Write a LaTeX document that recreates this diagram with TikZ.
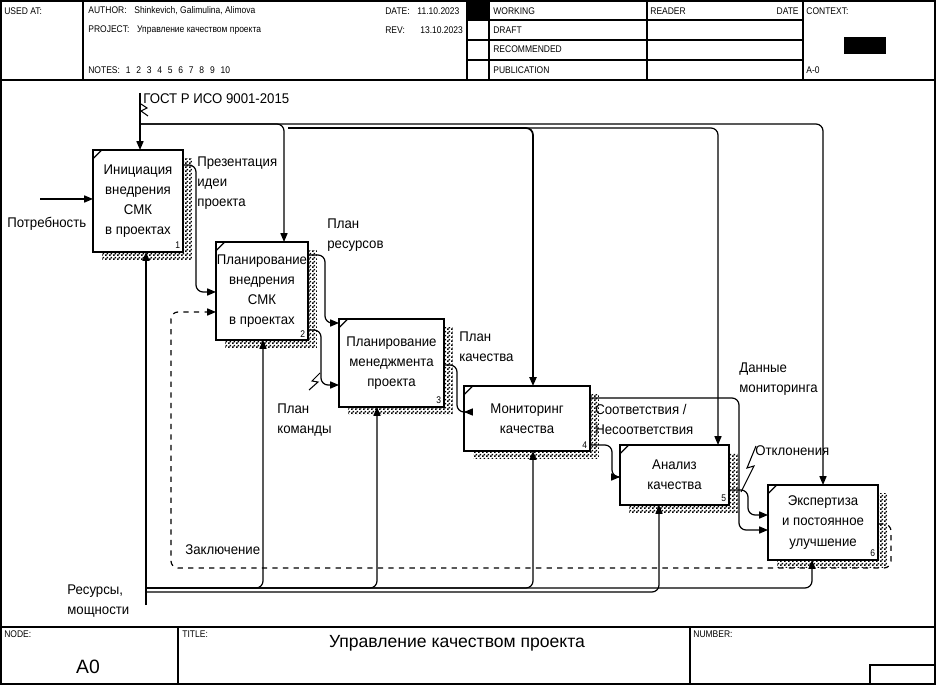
\documentclass[tikz,border=0pt]{standalone}
\usepackage{fontspec}
\setmainfont{Liberation Sans}
\newfontfamily\hdrfam[FakeStretch=0.88]{Liberation Sans}
\newfontfamily\blkfam[FakeStretch=0.94]{Liberation Sans}
\usetikzlibrary{arrows.meta,positioning,calc,patterns,backgrounds}

\newcommand\blkfont{\blkfam\fontsize{8}{11.5}\selectfont}
\newcommand\hdrfont{\hdrfam\fontsize{5.5}{6.5}\selectfont}
\newcommand\numfont{\hdrfam\fontsize{5.5}{6}\selectfont}

\pgfdeclarepatternformonly{idefhatch}{\pgfpointorigin}{\pgfqpoint{2pt}{2pt}}{\pgfqpoint{2pt}{2pt}}{%
    \pgfpathrectangle{\pgfpointorigin}{\pgfqpoint{1pt}{1pt}}%
    \pgfpathrectangle{\pgfqpoint{1pt}{1pt}}{\pgfqpoint{1pt}{1pt}}%
    \pgfusepath{fill}}

\begin{document}
\begin{tikzpicture}[x=0.02cm, y=-0.02cm,
    func/.style={draw, line width=1.5pt, fill=white, inner sep=0pt, outer sep=0pt, align=center, font=\blkfont,
        path picture={\draw[line width=0.7pt] ([yshift=-5pt]path picture bounding box.north west) -- ([xshift=5pt]path picture bounding box.north west);}},
    conn/.style={line width=0.7pt, rounded corners=4pt, -{Triangle[length=5pt,width=4pt]}},
    lab/.style={font=\blkfont, inner sep=0pt, align=left},
    hdr/.style={font=\hdrfont, inner sep=0pt, anchor=west},
    num/.style={font=\numfont, inner sep=1.5pt, anchor=south east},
    frame/.style={line width=1.2pt},
    thinl/.style={line width=0.6pt},
    shade/.style={pattern=idefhatch}
]
    \useasboundingbox (0,0) rectangle (936,685);

    % Рамка и шапка
    \draw[frame] (1,1) rectangle (935,684);
    \draw[frame] (1,80) -- (935,80);
    \draw[frame] (83,1) -- (83,80);
    \draw[thinl] (467,1) -- (467,80);
    \draw[frame] (489,1) -- (489,80);
    \draw[thinl] (647,1) -- (647,80);
    \draw[thinl] (803,1) -- (803,80);
    \draw[frame] (467,20) -- (803,20);
    \draw[thinl] (467,40) -- (803,40);
    \draw[thinl] (467,60) -- (803,60);
    \fill (467,1) rectangle (489,20);
    \fill (844,37) rectangle (886,54);

    \node[hdr] (usedat) at (4,11) {USED AT:};
    \node[hdr] (author) at (88,11) {AUTHOR:\hspace{0.8em}Shinkevich, Galimulina, Alimova};
    \node[hdr] (project) at (88,30) {PROJECT:\hspace{0.8em}Управление качеством проекта};
    \node[hdr] (notes) at (88,70) {NOTES:\hspace{0.6em}1\hspace{0.6em}2\hspace{0.6em}3\hspace{0.6em}4\hspace{0.6em}5\hspace{0.6em}6\hspace{0.6em}7\hspace{0.6em}8\hspace{0.6em}9\hspace{0.6em}10};
    \node[hdr] (date) at (385,11) {DATE:\hspace{0.8em}11.10.2023};
    \node[hdr] (rev) at (385,30) {REV:\hspace{1.6em}13.10.2023};
    \node[hdr] (working) at (493,11) {WORKING};
    \node[hdr] (draft) at (493,30) {DRAFT};
    \node[hdr] (recom) at (493,49) {RECOMMENDED};
    \node[hdr] (publ) at (493,70) {PUBLICATION};
    \node[hdr] (reader) at (650,11) {READER};
    \node[hdr, anchor=east] (rdate) at (799,11) {DATE};
    \node[hdr] (context) at (806,11) {CONTEXT:};
    \node[hdr] (actx) at (806,70) {A-0};

    % Подвал
    \draw[frame] (1,627) -- (935,627);
    \draw[frame] (178,627) -- (178,684);
    \draw[frame] (690,627) -- (690,684);
    \draw[thinl] (870,684) -- (870,665) -- (935,665);
    \node[hdr] (nodel) at (4,634) {NODE:};
    \node[font=\fontsize{11}{12}\selectfont] (nodeid) at (88,667) {A0};
    \node[hdr] (titlel) at (182,634) {TITLE:};
    \node[font=\fontsize{10}{12}\selectfont] (title) at (457,643) {Управление качеством проекта};
    \node[hdr] (numl) at (693,634) {NUMBER:};

    % Функциональные блоки
    \node[func, minimum width=1.8cm, minimum height=2.04cm] (b1) at (138,201) {Инициация\\внедрения\\СМК\\в проектах};
    \node[func, minimum width=1.84cm, minimum height=1.96cm] (b2) at (262,291) {Планирование\\внедрения\\СМК\\в проектах};
    \node[func, minimum width=2.1cm, minimum height=1.76cm] (b3) at (391.5,363) {Планирование\\менеджмента\\проекта};
    \node[func, minimum width=2.52cm, minimum height=1.3cm] (b4) at (527,418.5) {Мониторинг\\качества};
    \node[func, minimum width=2.18cm, minimum height=1.2cm] (b5) at (674.5,475) {Анализ\\качества};
    \node[func, minimum width=2.2cm, minimum height=1.5cm] (b6) at (823,522.5) {Экспертиза\\и постоянное\\улучшение};
    \foreach \i in {1,...,6}
        \node[num] (n\i) at (b\i.south east) {\i};
    \begin{scope}[on background layer]
        \foreach \i in {1,...,6}
            \fill[shade] ($(b\i.north west)+(9,8)$) rectangle ($(b\i.south east)+(9,8)$);
    \end{scope}

    % Вход
    \coordinate (needIn) at (40,199);
    \draw[conn] (needIn) -- (b1.west |- needIn);
    \node[lab, anchor=west] (lNeed) at (7,224) {Потребность};

    % Управление
    \coordinate (gostIn) at (140,93);
    \coordinate (gostSplit) at (140,124);
    \node[lab, anchor=west] (lGost) at (143,99) {ГОСТ Р ИСО 9001-2015};
    \draw[thinl] (141,104) -- (147,108) -- (141,111) -- (148,116);
    \draw[conn] (gostIn) -- (b1.north -| 140,0);
    \draw[conn] (gostSplit) -| (b2.north -| 284,0);
    \draw[conn] (gostSplit) -| (b6.north -| 823,0);
    \draw[conn, line width=1pt] (288,128) -| (b4.north -| 533,0);
    \draw[conn] (288,128) -| (b5.north -| 718,0);

    % Выходы
    \draw[conn] (b1.east |- 0,165) -| (196,292) -- (b2.west |- 0,292);
    \node[lab, anchor=north west] (lPres) at (197,156) {Презентация\\идеи\\проекта};
    \draw[conn] (b2.east |- 0,255) -| (325,323) -- (b3.west |- 0,323);
    \node[lab, anchor=north west] (lRes) at (327,218) {План\\ресурсов};
    \draw[conn] (b2.east |- 0,330) -| (321,385) -- (b3.west |- 0,385);
    \draw[thinl] (320,373) -- (312,381) -- (318,382) -- (309,390);
    \node[lab, anchor=north west] (lTeam) at (277,403) {План\\команды};
    \draw[conn] (b3.east |- 0,365) -| (457,412) -- (b4.west |- 0,412);
    \node[lab, anchor=north west] (lQual) at (459,331) {План\\качества};
    \draw[conn] (b4.east |- 0,445) -| (612,477) -- (b5.west |- 0,477);
    \draw[conn] (b4.east |- 0,398) -| (739,530) -- (b6.west |- 0,530);
    \node[lab, anchor=north west] (lConf) at (595,404) {Соответствия /\\Несоответствия};
    \node[lab, anchor=north west] (lMon) at (739,362) {Данные\\мониторинга};
    \draw[conn] (b5.east |- 0,490) -| (748,515) -- (b6.west |- 0,515);
    \draw[thinl] (756,446) -- (747,468) -- (754,466) -- (741,492);
    \node[lab, anchor=west] (lDev) at (755,451) {Отклонения};

    % Обратная связь
    \draw[conn, dashed] (b6.east |- 0,524) -| (891,568) -| (171,312) -- (b2.west |- 0,312);
    \node[lab, anchor=west] (lConcl) at (185,550) {Заключение};

    % Механизмы
    \coordinate (mechIn) at (146,605);
    \draw[conn] (mechIn) -- (b1.south -| 146,0);
    \draw[conn] (146,588) -| (b2.south -| 263,0);
    \draw[conn] (146,588) -| (b3.south -| 377,0);
    \draw[conn] (146,588) -| (b4.south -| 533,0);
    \draw[conn] (146,592) -| (b5.south -| 659,0);
    \draw[conn] (146,588) -| (b6.south -| 812,0);
    \node[lab, anchor=north west] (lMech) at (67,584) {Ресурсы,\\мощности};
\end{tikzpicture}
\end{document}
